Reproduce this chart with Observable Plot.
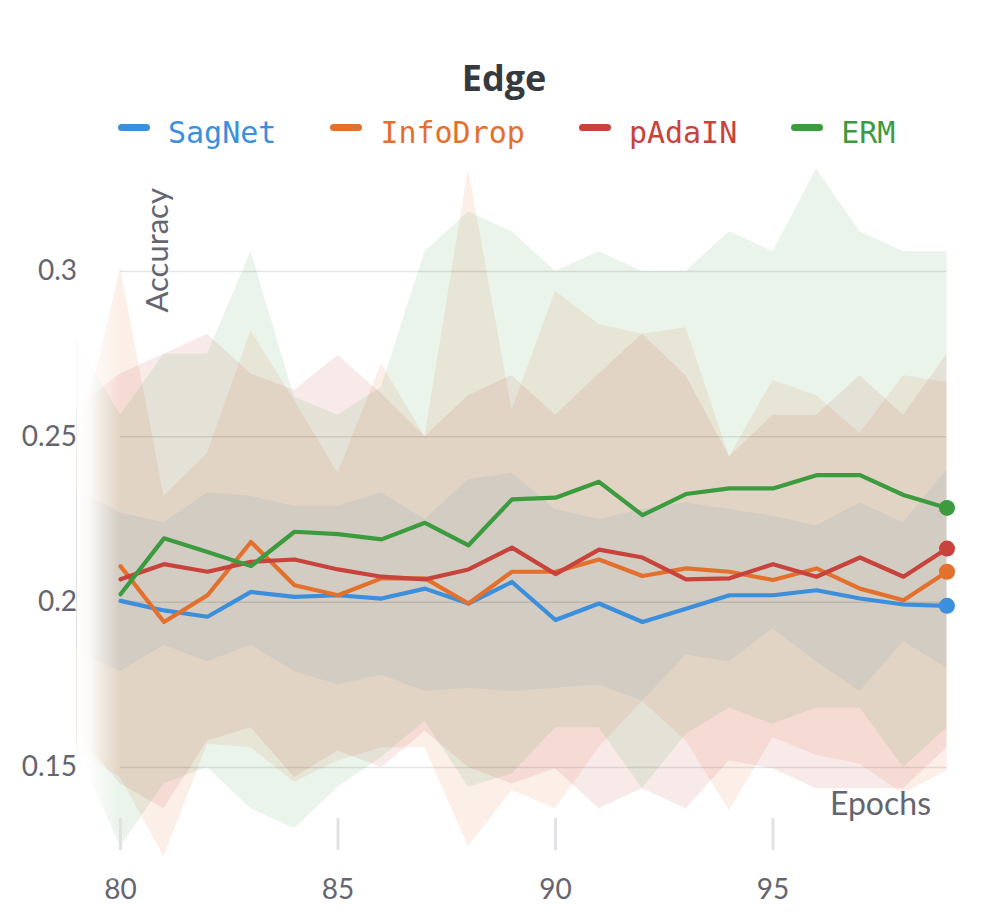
<!DOCTYPE html>
<html>
<head>
<meta charset="utf-8">
<script src="https://cdn.jsdelivr.net/npm/d3@7"></script>
<script src="https://cdn.jsdelivr.net/npm/@observablehq/plot@0.6"></script>
<style>
  html, body { margin: 0; padding: 0; background: #fff; }
  #wrap { position: relative; width: 1008px; height: 924px; overflow: hidden; }
  #title { position: absolute; left: 0; top: 60px; width: 1008px; text-align: center;
           font-family: "Open Sans", sans-serif; font-weight: 700; font-size: 36px; line-height: 36px; color: #36393d; }
  #legend { position: absolute; left: 118px; top: 118px; display: flex; align-items: center;
            font-family: "DejaVu Sans Mono", monospace; font-size: 30px; line-height: 30px; }
  .item { display: flex; align-items: center; margin-right: 54px; }
  .sw { width: 32px; height: 7px; border-radius: 3.5px; margin-right: 18px; transform: translateY(-6px); }
  #fade { position: absolute; left: 77px; top: 150px; width: 43px; height: 730px; pointer-events: none;
          background: linear-gradient(to right, rgba(255,255,255,1) 0%, rgba(255,255,255,0.88) 30%, rgba(255,255,255,0.45) 62%, rgba(255,255,255,0) 100%); }
</style>
</head>
<body>
<div id="wrap">
  <div id="chart"></div>
  <div id="fade"></div>
  <div id="title">Edge</div>
  <div id="legend"></div>
</div>
<script>
const epochs = [80, 81, 82, 83, 84, 85, 86, 87, 88, 89, 90, 91, 92, 93, 94, 95, 96, 97, 98, 99];
const bandEpochs = [79, 80, 81, 82, 83, 84, 85, 86, 87, 88, 89, 90, 91, 92, 93, 94, 95, 96, 97, 98, 99];
const seriesNames = ["SagNet", "InfoDrop", "pAdaIN", "ERM"];
const seriesColors = ["#3b8fdc", "#e4702d", "#c8433c", "#3d9b3f"];
const xTicks = [80, 85, 90, 95];
const yTicks = [0.15, 0.2, 0.25, 0.3];

// mean accuracy per epoch (80..99)
const sagnetMean   = [0.2004, 0.1975, 0.1956, 0.2031, 0.2016, 0.2021, 0.2011, 0.2041, 0.1996, 0.2061, 0.1946, 0.1996, 0.1940, 0.1980, 0.2021, 0.2021, 0.2036, 0.2011, 0.1993, 0.1989];
const infodropMean = [0.2109, 0.1940, 0.2021, 0.2182, 0.2051, 0.2021, 0.2072, 0.2072, 0.1996, 0.2092, 0.2092, 0.2129, 0.2079, 0.2102, 0.2092, 0.2067, 0.2102, 0.2041, 0.2006, 0.2092];
const padainMean   = [0.2069, 0.2115, 0.2092, 0.2122, 0.2129, 0.2099, 0.2077, 0.2069, 0.2099, 0.2165, 0.2085, 0.2159, 0.2135, 0.2069, 0.2072, 0.2115, 0.2077, 0.2135, 0.2077, 0.2162];
const ermMean      = [0.2024, 0.2193, 0.2152, 0.2109, 0.2213, 0.2206, 0.2190, 0.2240, 0.2172, 0.2311, 0.2316, 0.2364, 0.2263, 0.2327, 0.2344, 0.2344, 0.2384, 0.2384, 0.2324, 0.2285];

// band bounds per epoch (79..99)
const sagnetLo   = [0.185, 0.179, 0.187, 0.182, 0.187, 0.179, 0.175, 0.178, 0.173, 0.174, 0.173, 0.174, 0.175, 0.170, 0.184, 0.182, 0.192, 0.182, 0.173, 0.188, 0.180];
const sagnetHi   = [0.234, 0.227, 0.224, 0.233, 0.232, 0.229, 0.229, 0.233, 0.225, 0.237, 0.239, 0.228, 0.225, 0.228, 0.230, 0.228, 0.226, 0.223, 0.230, 0.224, 0.240];
const infodropLo = [0.155, 0.147, 0.123, 0.157, 0.156, 0.1455, 0.152, 0.156, 0.156, 0.126, 0.143, 0.1375, 0.156, 0.170, 0.158, 0.137, 0.159, 0.1536, 0.151, 0.142, 0.149];
const infodropHi = [0.245, 0.301, 0.232, 0.245, 0.282, 0.261, 0.239, 0.272, 0.250, 0.331, 0.258, 0.294, 0.284, 0.281, 0.283, 0.244, 0.267, 0.2625, 0.251, 0.2685, 0.2665];
const padainLo   = [0.160, 0.145, 0.1375, 0.158, 0.162, 0.147, 0.155, 0.150, 0.161, 0.150, 0.145, 0.1496, 0.1375, 0.1436, 0.1375, 0.152, 0.1496, 0.1436, 0.1436, 0.1436, 0.156];
const padainHi   = [0.259, 0.269, 0.275, 0.281, 0.269, 0.264, 0.2746, 0.263, 0.250, 0.2625, 0.2685, 0.2565, 0.269, 0.281, 0.2685, 0.244, 0.2565, 0.2565, 0.2685, 0.2565, 0.275];
const ermLo      = [0.156, 0.126, 0.145, 0.150, 0.1375, 0.1315, 0.144, 0.153, 0.164, 0.144, 0.148, 0.162, 0.162, 0.1436, 0.160, 0.168, 0.163, 0.168, 0.168, 0.150, 0.162];
const ermHi      = [0.279, 0.2565, 0.275, 0.275, 0.306, 0.262, 0.2565, 0.265, 0.306, 0.318, 0.312, 0.300, 0.306, 0.300, 0.300, 0.312, 0.306, 0.331, 0.312, 0.306, 0.306];

const means = [sagnetMean, infodropMean, padainMean, ermMean];
const los = [sagnetLo, infodropLo, padainLo, ermLo];
const his = [sagnetHi, infodropHi, padainHi, ermHi];

const lineData = seriesNames.flatMap((s, k) => epochs.map((e, i) => ({series: s, epoch: e, value: means[k][i]})));
const bandData = seriesNames.flatMap((s, k) => bandEpochs.map((e, i) => ({series: s, epoch: e, lo: los[k][i], hi: his[k][i]})));
const lastData = seriesNames.map((s, k) => ({series: s, epoch: epochs[epochs.length - 1], value: means[k][means[k].length - 1]}));

const textColor = "#65656f";

const chart = Plot.plot({
  width: 1008,
  height: 924,
  marginLeft: 76.5,
  marginRight: 61.5,
  marginTop: 150,
  marginBottom: 106,
  style: {background: "transparent", fontFamily: "Lato, sans-serif"},
  x: {domain: [bandEpochs[0], bandEpochs[bandEpochs.length - 1]]},
  y: {domain: [0.13458, 0.33659]},
  color: {domain: seriesNames, range: seriesColors},
  marks: [
    Plot.areaY(bandData, {x: "epoch", y1: "lo", y2: "hi", z: "series", fill: "series", fillOpacity: 0.11}),
    Plot.ruleY(yTicks, {x1: epochs[0], x2: epochs[epochs.length - 1], stroke: "#000", strokeOpacity: 0.1, strokeWidth: 1.5}),
    Plot.axisY({ticks: yTicks, tickSize: 0, tickPadding: 0, fontSize: 28, fill: textColor, tickFormat: d3.format("~g"), label: null}),
    Plot.axisX({ticks: xTicks, tickSize: 32, tickPadding: 29, fontSize: 28, fill: textColor, stroke: "#e2e2e6", strokeWidth: 3, label: null}),
    Plot.line(lineData, {x: "epoch", y: "value", z: "series", stroke: "series", strokeWidth: 4.2}),
    Plot.dot(lastData, {x: "epoch", y: "value", fill: "series", r: 8}),
    Plot.text(["Accuracy"], {frameAnchor: "top-left", dx: 81.5, dy: 162, rotate: -90, textAnchor: "start", lineAnchor: "middle", fontSize: 31, fill: textColor}),
    Plot.text(["Epochs"], {frameAnchor: "bottom-right", dx: -16, dy: -4, textAnchor: "end", lineAnchor: "bottom", fontSize: 32, fill: textColor})
  ]
});
document.getElementById("chart").append(chart);

const legend = document.getElementById("legend");
seriesNames.forEach((s, k) => {
  const item = document.createElement("div");
  item.className = "item";
  const sw = document.createElement("span");
  sw.className = "sw";
  sw.style.background = seriesColors[k];
  const t = document.createElement("span");
  t.textContent = s;
  t.style.color = seriesColors[k];
  item.append(sw, t);
  legend.append(item);
});
</script>
</body>
</html>
